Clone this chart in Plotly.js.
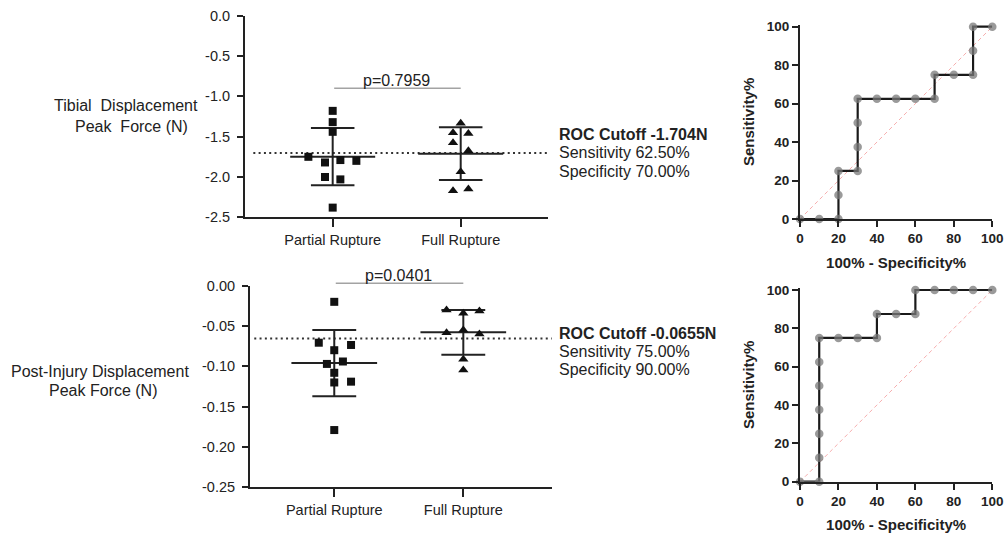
<!DOCTYPE html>
<html><head><meta charset="utf-8">
<script src="https://cdn.plot.ly/plotly-3.0.1.min.js"></script>
<style>html,body{margin:0;padding:0;background:#fff}#chart{width:1007px;height:535px}</style>
</head><body><div id="chart"></div>
<script>
// ---------------- data ----------------
const groupLabels = ['Partial Rupture', 'Full Rupture'];

// Tibial Displacement Peak Force (N)
const tibialPartial = [-1.18, -1.32, -1.44, -1.75, -1.82, -1.79, -1.80, -2.00, -2.03, -2.38];
const tibialPartialJitter = [0, 0, 0, -0.19, -0.06, 0.06, 0.185, -0.06, 0.06, 0];
const tibialFull = [-1.335, -1.45, -1.46, -1.575, -1.675, -1.935, -2.17, -2.15];
const tibialFullJitter = [0, -0.06, 0.06, -0.06, 0.06, 0, -0.06, 0.06];
const tibialMean = [-1.748, -1.711];
const tibialSD = [0.354, 0.327];
const tibialCutoff = -1.704;
const tibialP = 'p=0.7959';

// Post-Injury Displacement Peak Force (N)
const postPartial = [-0.020, -0.0707, -0.0735, -0.080, -0.097, -0.094, -0.108, -0.120, -0.119, -0.179];
const postPartialJitter = [0, -0.12, 0.13, 0, -0.057, 0.067, 0, 0, 0.13, 0];
const postFull = [-0.030, -0.0314, -0.0343, -0.055, -0.0583, -0.060, -0.0913, -0.1045];
const postFullJitter = [-0.13, 0.125, 0, 0, -0.13, 0.125, 0, 0];
const postMean = [-0.096, -0.0578];
const postSD = [0.0412, 0.0278];
const postCutoff = -0.0655;
const postP = 'p=0.0401';

// ROC cut-off summaries
const rocCutoffText = ['ROC Cutoff -1.704N', 'ROC Cutoff -0.0655N'];
const rocSensText = ['Sensitivity 62.50%', 'Sensitivity 75.00%'];
const rocSpecText = ['Specificity 70.00%', 'Specificity 90.00%'];

// ROC curves (100% - Specificity%, Sensitivity%)
const roc1X = [0, 10, 20, 20, 20, 30, 30, 30, 30, 40, 50, 60, 70, 70, 80, 90, 90, 90, 100];
const roc1Y = [0, 0, 0, 12.5, 25, 25, 37.5, 50, 62.5, 62.5, 62.5, 62.5, 62.5, 75, 75, 75, 87.5, 100, 100];
const roc2X = [0, 10, 10, 10, 10, 10, 10, 10, 20, 30, 40, 40, 50, 60, 60, 70, 80, 90, 100];
const roc2Y = [0, 0, 12.5, 25, 37.5, 50, 62.5, 75, 75, 75, 75, 87.5, 87.5, 87.5, 100, 100, 100, 100, 100];

const tibialTickVals = [0, -0.5, -1.0, -1.5, -2.0, -2.5];
const tibialTickText = ['0.0', '-0.5', '-1.0', '-1.5', '-2.0', '-2.5'];
const postTickVals = [0, -0.05, -0.10, -0.15, -0.20, -0.25];
const postTickText = ['0.00', '-0.05', '-0.10', '-0.15', '-0.20', '-0.25'];
const rocTickVals = [0, 20, 40, 60, 80, 100];

// ---------------- layout helpers ----------------
const W = 1007, H = 535;
const px = v => v / W;
const py = v => 1 - v / H;
const FONT = 'Liberation Sans, Arial, Helvetica, sans-serif';
const INK = '#222';

function meanSD(mean, sd, xa, ya) {
  const xs = [], ys = [];
  mean.forEach((m, i) => {
    xs.push(i - 0.332, i + 0.332, null, i, i, null, i - 0.17, i + 0.17, null, i - 0.17, i + 0.17, null);
    ys.push(m, m, null, m + sd[i], m - sd[i], null, m + sd[i], m + sd[i], null, m - sd[i], m - sd[i], null);
  });
  return {type: 'scatter', mode: 'lines', x: xs, y: ys, xaxis: xa, yaxis: ya,
    line: {color: INK, width: 2}, hoverinfo: 'skip', showlegend: false};
}
function pts(vals, jit, group, symbol, size, xa, ya) {
  return {type: 'scatter', mode: 'markers', x: vals.map((v, i) => group + jit[i]), y: vals,
    xaxis: xa, yaxis: ya, cliponaxis: false,
    marker: {symbol: symbol, size: size, color: '#111', line: {width: 0}}, showlegend: false};
}
function cutoffLine(val, xa, ya) {
  return {type: 'scatter', mode: 'lines', x: [-0.62, 1.7], y: [val, val], xaxis: xa, yaxis: ya,
    line: {color: '#333', width: 2, dash: '2px,3.3px'}, hoverinfo: 'skip', showlegend: false};
}
function rocCurve(x, y, xa, ya) {
  return {type: 'scatter', mode: 'lines+markers', x: x, y: y, xaxis: xa, yaxis: ya, cliponaxis: false,
    line: {color: '#1a1a1a', width: 2.2},
    marker: {size: 8.5, color: 'rgba(120,120,120,0.75)', line: {width: 0}}, showlegend: false};
}
function diag(xa, ya) {
  return {type: 'scatter', mode: 'lines', x: [0, 100], y: [0, 100], xaxis: xa, yaxis: ya,
    line: {color: 'rgba(240,120,120,0.6)', width: 1, dash: '4px,3px'}, hoverinfo: 'skip', showlegend: false};
}

const traces = [
  cutoffLine(tibialCutoff, 'x', 'y'),
  meanSD(tibialMean, tibialSD, 'x', 'y'),
  pts(tibialPartial, tibialPartialJitter, 0, 'square', 8, 'x', 'y'),
  pts(tibialFull, tibialFullJitter, 1, 'triangle-up', 9, 'x', 'y'),
  cutoffLine(postCutoff, 'x2', 'y2'),
  meanSD(postMean, postSD, 'x2', 'y2'),
  pts(postPartial, postPartialJitter, 0, 'square', 8, 'x2', 'y2'),
  pts(postFull, postFullJitter, 1, 'triangle-up', 9, 'x2', 'y2'),
  diag('x3', 'y3'),
  rocCurve(roc1X, roc1Y, 'x3', 'y3'),
  diag('x4', 'y4'),
  rocCurve(roc2X, roc2Y, 'x4', 'y4')
];

const catAxis = (dom, range, anchor) => ({
  domain: dom, range: range, anchor: anchor, tickmode: 'array', tickvals: [0, 1], ticktext: groupLabels,
  ticks: 'outside', ticklen: 8, tickwidth: 2, tickcolor: INK, showline: true, linewidth: 2, linecolor: INK,
  showgrid: false, zeroline: false, fixedrange: true, tickfont: {family: FONT, size: 14.5, color: INK}
});
const valAxis = (dom, range, anchor, tv, tt) => ({
  domain: dom, range: range, anchor: anchor, tickmode: 'array', tickvals: tv, ticktext: tt,
  ticks: 'outside', ticklen: 6, tickwidth: 2, tickcolor: INK, showline: true, linewidth: 2, linecolor: INK,
  ticklabelstandoff: 4,
  showgrid: false, zeroline: false, fixedrange: true, tickfont: {family: FONT, size: 14.5, color: INK}
});
const rocX = (dom, anchor) => ({
  domain: dom, range: [0, 100], anchor: anchor, tickmode: 'array', tickvals: rocTickVals,
  ticks: 'outside', ticklen: 6, tickwidth: 2, tickcolor: INK, showline: true, linewidth: 2, linecolor: INK,
  showgrid: false, zeroline: false, fixedrange: true,
  tickfont: {family: FONT, size: 13.5, color: INK, weight: 'bold'},
  title: {text: '100% - Specificity%', font: {family: FONT, size: 15, color: INK, weight: 'bold'}, standoff: 12}
});
const rocY = (dom, anchor) => ({
  domain: dom, range: [0, 101], anchor: anchor, tickmode: 'array', tickvals: rocTickVals,
  ticks: 'outside', ticklen: 6, tickwidth: 2, tickcolor: INK, showline: true, linewidth: 2, linecolor: INK,
  showgrid: false, zeroline: false, fixedrange: true,
  tickfont: {family: FONT, size: 13.5, color: INK, weight: 'bold'},
  title: {text: 'Sensitivity%', font: {family: FONT, size: 15, color: INK, weight: 'bold'}, standoff: 9}
});

const txt = (text, x, y, opts) => Object.assign({
  text: text, x: x, y: y, xref: 'paper', yref: 'paper', showarrow: false,
  xanchor: 'left', yanchor: 'middle', font: {family: FONT, size: 16, color: INK}
}, opts || {});

// comparison bracket between the two groups (categories 0 and 1), shifted in pixels above yv
function bracket(pText, yv, shift, xr, yr) {
  return [
    {x: 1, y: yv, ax: 0, ay: yv, xref: xr, yref: yr, axref: xr, ayref: yr, text: '', showarrow: true,
     arrowhead: 0, arrowwidth: 1.5, arrowcolor: '#a3a3a3', standoff: 0, startstandoff: 0, yshift: shift},
    {x: 0.5, y: yv, xref: xr, yref: yr, text: pText, showarrow: false, yanchor: 'bottom', yshift: shift - 3,
     font: {family: FONT, size: 16, color: INK}}
  ];
}

const annotations = [
  ...bracket(tibialP, -0.901, 0, 'x', 'y'),
  ...bracket(postP, 0, 2.4, 'x2', 'y2'),
  txt('Tibial\u00a0 Displacement', px(126), py(105.5), {xanchor: 'center'}),
  txt('Peak\u00a0 Force (N)', px(131), py(127), {xanchor: 'center'}),
  txt('Post-Injury Displacement', px(100), py(371), {xanchor: 'center'}),
  txt('Peak Force (N)', px(103), py(390), {xanchor: 'center'}),
  txt('<b>' + rocCutoffText[0] + '</b>', px(557), py(134)),
  txt(rocSensText[0], px(557), py(152.7)),
  txt(rocSpecText[0], px(557), py(171.7)),
  txt('<b>' + rocCutoffText[1] + '</b>', px(557), py(333.3)),
  txt(rocSensText[1], px(557), py(351.7)),
  txt(rocSpecText[1], px(557), py(369.3))
];

const layout = {
  width: W, height: H, margin: {l: 0, r: 0, t: 0, b: 0},
  paper_bgcolor: '#fff', plot_bgcolor: '#fff', showlegend: false,
  font: {family: FONT, color: INK},
  xaxis: catAxis([px(245), px(548)], [-0.685, 1.682], 'y'),
  yaxis: valAxis([py(217.3), py(15.7)], [-2.5, 0], 'x', tibialTickVals, tibialTickText),
  xaxis2: catAxis([px(250), px(551.7)], [-0.653, 1.685], 'y2'),
  yaxis2: valAxis([py(487.3), py(285.7)], [-0.25, 0], 'x2', postTickVals, postTickText),
  xaxis3: rocX([px(800), px(992.3)], 'y3'),
  yaxis3: rocY([py(219), py(24.8)], 'x3'),
  xaxis4: rocX([px(800), px(992.3)], 'y4'),
  yaxis4: rocY([py(481.7), py(288.1)], 'x4'),
  annotations: annotations
};

Plotly.newPlot('chart', traces, layout, {displayModeBar: false, staticPlot: true});
</script></body></html>
